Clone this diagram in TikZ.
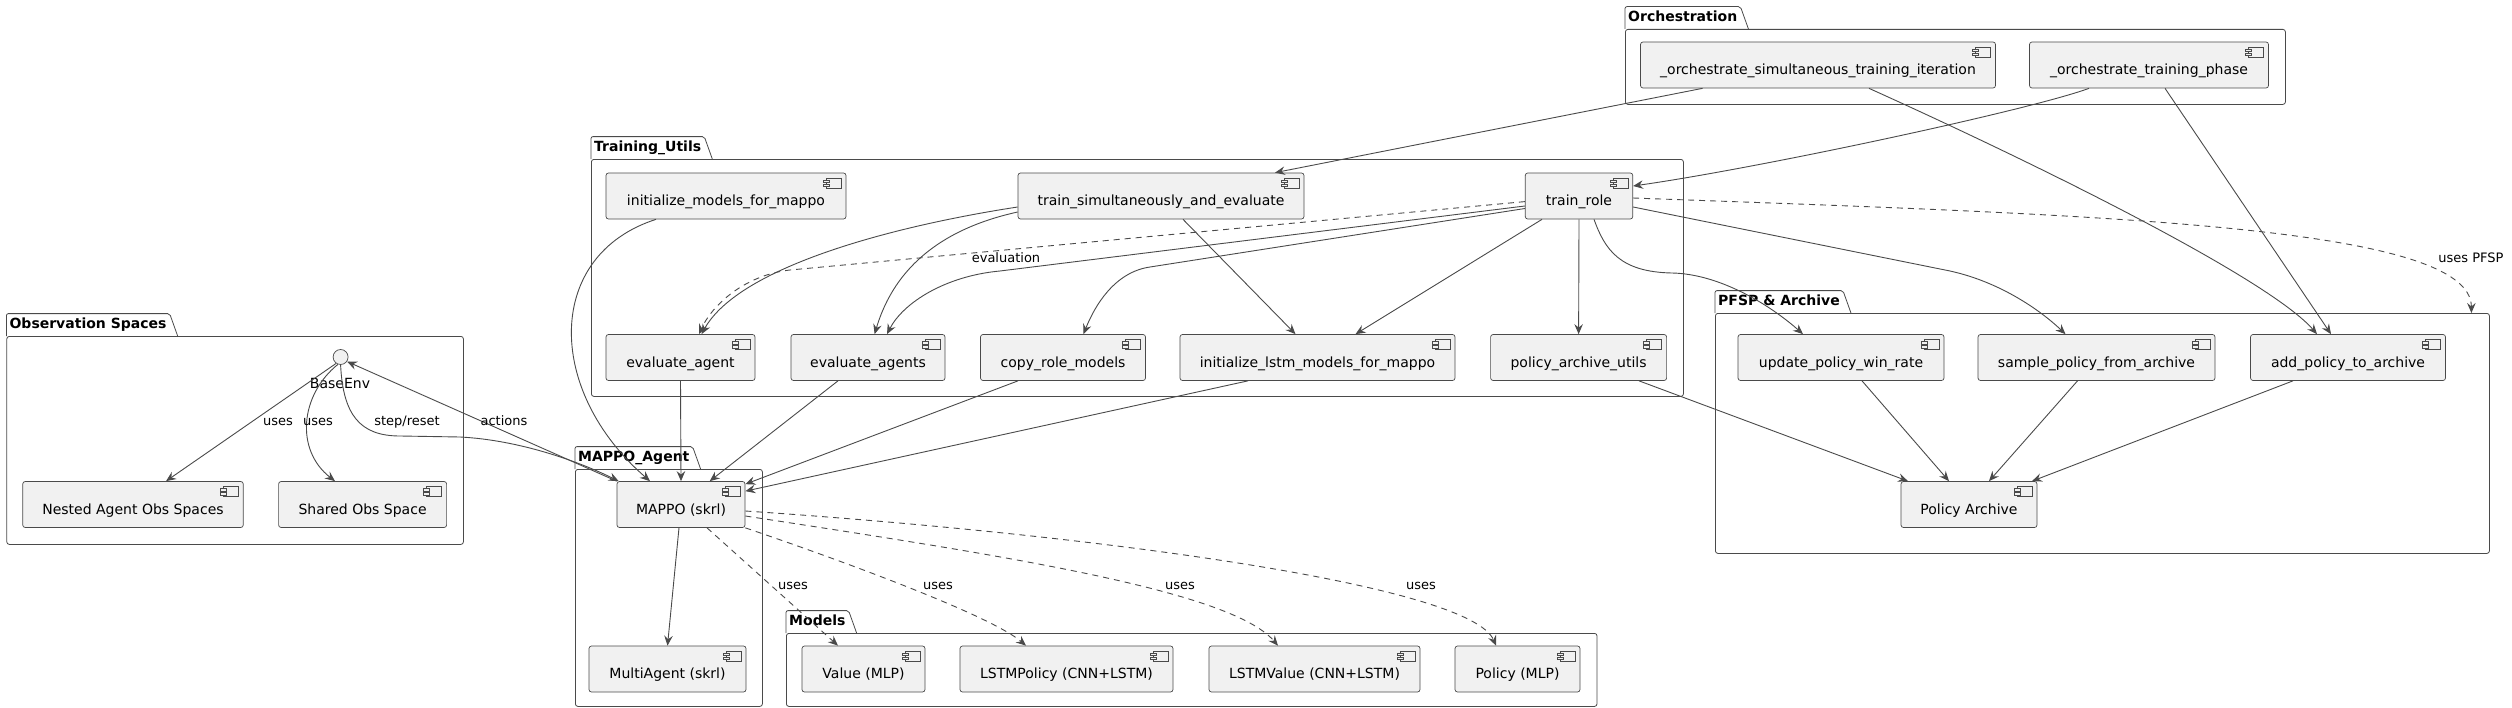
\documentclass[tikz,border=0pt]{standalone}
\usepackage{fontspec}
\setmainfont{DejaVu Sans}
\usetikzlibrary{arrows.meta}
\definecolor{linec}{HTML}{4A4A4A}
\definecolor{compfill}{HTML}{F1F1F1}

\begin{document}
\begin{tikzpicture}[x=1bp,y=-1bp,
    comp/.style={draw=linec,line width=0.7bp,fill=compfill,rounded corners=2.5bp,
        minimum height=46bp,inner sep=0pt,text height=22bp,text depth=3bp,
        font=\fontsize{14bp}{16bp}\selectfont,
        path picture={
            \draw[sharp corners,linec,line width=0.5bp,fill=compfill]
                ([shift={(-20bp,-5bp)}]path picture bounding box.north east) rectangle ++(15bp,-10bp);
            \draw[sharp corners,linec,line width=0.5bp,fill=compfill]
                ([shift={(-23bp,-7bp)}]path picture bounding box.north east) rectangle ++(6bp,-2.5bp);
            \draw[sharp corners,linec,line width=0.5bp,fill=compfill]
                ([shift={(-23bp,-11bp)}]path picture bounding box.north east) rectangle ++(6bp,-2.5bp);
        }},
    pkgbox/.style={draw=linec,line width=0.8bp,rounded corners=2.5bp,inner sep=0pt,anchor=north west},
    pkgtitle/.style={font=\bfseries\fontsize{14bp}{16bp}\selectfont,inner xsep=3bp,inner ysep=0pt,
        minimum height=22bp,text height=10.5bp,text depth=3bp,anchor=south west},
    pkgline/.style={draw=linec,line width=0.8bp,rounded corners=2bp},
    arr/.style={draw=linec,line width=0.9bp,-{Stealth[length=10bp,width=8.5bp,inset=3.5bp]}},
    dasharr/.style={arr,dash pattern=on 6bp off 5bp},
    elbl/.style={font=\fontsize{13bp}{15bp}\selectfont,inner sep=1bp,text height=9.5bp,text depth=2.5bp}]

    \useasboundingbox (0,0) rectangle (2512,708);

    % packages
    \node (obs) at (6.4,336) [pkgbox,minimum width=456.6bp,minimum height=208bp] {};
    \node (obstitle) at (obs.north west) [pkgtitle] {Observation Spaces};
    \draw[pkgline] (obstitle.south west) -- (obstitle.north west) -- (obstitle.north east) -- ([xshift=8bp]obstitle.south east);

    \node (train) at (591,159) [pkgbox,minimum width=1092bp,minimum height=237bp] {};
    \node (traintitle) at (train.north west) [pkgtitle] {Training\_Utils};
    \draw[pkgline] (traintitle.south west) -- (traintitle.north west) -- (traintitle.north east) -- ([xshift=8bp]traintitle.south east);

    \node (agent) at (575,469) [pkgbox,minimum width=187bp,minimum height=237bp] {};
    \node (agenttitle) at (agent.north west) [pkgtitle] {MAPPO\_Agent};
    \draw[pkgline] (agenttitle.south west) -- (agenttitle.north west) -- (agenttitle.north east) -- ([xshift=8bp]agenttitle.south east);

    \node (models) at (786,633) [pkgbox,minimum width=810.6bp,minimum height=73bp] {};
    \node (modelstitle) at (models.north west) [pkgtitle] {Models};
    \draw[pkgline] (modelstitle.south west) -- (modelstitle.north west) -- (modelstitle.north east) -- ([xshift=8bp]modelstitle.south east);

    \node (orch) at (1625,29) [pkgbox,minimum width=660bp,minimum height=75bp] {};
    \node (orchtitle) at (orch.north west) [pkgtitle] {Orchestration};
    \draw[pkgline] (orchtitle.south west) -- (orchtitle.north west) -- (orchtitle.north east) -- ([xshift=8bp]orchtitle.south east);

    \node (pfsp) at (1715,313) [pkgbox,minimum width=774bp,minimum height=240bp] {};
    \node (pfsptitle) at (pfsp.north west) [pkgtitle] {PFSP \& Archive};
    \draw[pkgline] (pfsptitle.south west) -- (pfsptitle.north west) -- (pfsptitle.north east) -- ([xshift=8bp]pfsptitle.south east);

    % components
    \node (orchsim) at (1818,65) [comp,minimum width=355bp] {\_orchestrate\_simultaneous\_training\_iteration};
    \node (orchphase) at (2149,65) [comp,minimum width=239bp] {\_orchestrate\_training\_phase};

    \node (initmodels) at (726,196) [comp,minimum width=240bp] {initialize\_models\_for\_mappo};
    \node (trainsim) at (1161,196) [comp,minimum width=286bp] {train\_simultaneously\_and\_evaluate};
    \node (trainrole) at (1579,196) [comp,minimum width=107.5bp] {train\_role};
    \node (evalagent) at (680.5,357.5) [comp,minimum width=149bp] {evaluate\_agent};
    \node (evalagents) at (868,357.5) [comp,minimum width=154bp] {evaluate\_agents};
    \node (copyrole) at (1063,357.5) [comp,minimum width=165bp] {copy\_role\_models};
    \node (initlstm) at (1317.5,357.5) [comp,minimum width=275bp] {initialize\_lstm\_models\_for\_mappo};
    \node (archutils) at (1578.6,357.5) [comp,minimum width=176bp] {policy\_archive\_utils};

    \node (updwin) at (1841,357.5) [comp,minimum width=206bp] {update\_policy\_win\_rate};
    \node (sample) at (2096.5,357.5) [comp,minimum width=237bp] {sample\_policy\_from\_archive};
    \node (addpol) at (2348,357.5) [comp,minimum width=195bp] {add\_policy\_to\_archive};
    \node (archive) at (1969,504.5) [comp,minimum width=136bp] {Policy Archive};

    \node (baseenv) at (340.6,357) [circle,draw=linec,line width=0.7bp,fill=compfill,minimum size=15bp,inner sep=0pt] {};
    \node (baseenvlbl) at (340,383) [font=\fontsize{14bp}{16bp}\selectfont,inner sep=0pt] {BaseEnv};
    \node (nested) at (133,504.5) [comp,minimum width=220.5bp] {Nested Agent Obs Spaces};
    \node (shared) at (362.6,504.5) [comp,minimum width=168bp] {Shared Obs Space};

    \node (mappo) at (681,504.5) [comp,minimum width=128bp] {MAPPO (skrl)};
    \node (multi) at (667.5,669) [comp,minimum width=157bp] {MultiAgent (skrl)};
    \node (value) at (863.5,669) [comp,minimum width=123bp] {Value (MLP)};
    \node (lstmpol) at (1066.5,669) [comp,minimum width=213bp] {LSTMPolicy (CNN+LSTM)};
    \node (lstmval) at (1314.5,669) [comp,minimum width=211bp] {LSTMValue (CNN+LSTM)};
    \node (polmlp) at (1517.5,669) [comp,minimum width=125bp] {Policy (MLP)};

    % orchestration calls
    \draw[arr] ([xshift=-115.5bp]orchsim.south) -- ([xshift=114bp]trainsim.north);
    \draw[arr] ([xshift=51bp]orchsim.south) .. controls (2050,170) and (2270,280) .. ([xshift=-31bp]addpol.north);
    \draw[arr] ([xshift=-60bp]orchphase.south) .. controls (2030,110) and (1760,168) .. ([yshift=10bp]trainrole.east);
    \draw[arr] ([xshift=16bp]orchphase.south) -- ([xshift=-17bp]addpol.north);

    % training utils
    \draw[dasharr] ([yshift=-5.6bp]trainrole.west) -- (790,270) .. controls (745,275) and (712,305) .. ([xshift=18.5bp]evalagent.north);
    \draw[arr] ([yshift=-11bp]trainsim.west) .. controls (900,225) and (740,265) .. ([xshift=21bp]evalagent.north);
    \draw[arr] ([yshift=-16bp]trainsim.west) .. controls (945,228) and (895,265) .. ([xshift=6.6bp]evalagents.north);
    \draw[arr] ([yshift=-10bp]trainrole.west) -- (1000,271) .. controls (945,276) and (903,303) .. ([xshift=19bp]evalagents.north);
    \draw[arr] ([yshift=-12.5bp]trainrole.west) -- (1150,267) .. controls (1115,272) and (1095,305) .. ([xshift=20.5bp]copyrole.north);
    \draw[arr] ([xshift=22bp]trainsim.south) -- ([xshift=-22bp]initlstm.north);
    \draw[arr] ([xshift=-37bp]trainrole.south) -- ([xshift=38bp]initlstm.north);
    \draw[arr] (trainrole.south) -- (archutils.north);
    \draw[arr] ([xshift=15bp]trainrole.south) .. controls (1605,250) and (1620,272) .. (1672,273)
        .. controls (1720,274) and (1770,305) .. ([xshift=-38bp]updwin.north);
    \draw[arr] ([yshift=-11bp]trainrole.east) -- (1950,271) .. controls (2000,282) and (2040,310) .. ([xshift=-31bp]sample.north);
    \draw[dasharr] ([yshift=-2bp]trainrole.east) .. controls (2100,215) and (2471,225) .. ([xshift=369bp]pfsp.north);

    % into the agent
    \draw[arr] ([xshift=-70bp]initmodels.south) .. controls (545,255) and (545,390) .. ([xshift=-31bp]mappo.north);
    \draw[arr] (evalagent.south) -- (mappo.north);
    \draw[arr] ([xshift=-30bp]evalagents.south) -- ([xshift=28.7bp]mappo.north);
    \draw[arr] ([xshift=-45bp]copyrole.south) -- ([yshift=-3bp]mappo.north east);
    \draw[arr] ([xshift=-69.5bp]initlstm.south) -- ([yshift=-10bp]mappo.north east);

    % archive
    \draw[arr] ([xshift=60.4bp]archutils.south) -- ([xshift=-61bp]archive.north);
    \draw[arr] ([xshift=21bp]updwin.south) -- ([xshift=-20bp]archive.north);
    \draw[arr] ([xshift=-19bp]sample.south) -- ([xshift=20bp]archive.north);
    \draw[arr] ([xshift=-55bp]addpol.south) -- ([xshift=63bp]archive.north);

    % agent and models
    \draw[arr] ([xshift=-2bp]mappo.south) -- (multi.north);
    \draw[dasharr] ([xshift=26bp]mappo.south) -- ([xshift=-25.5bp]value.north);
    \draw[dasharr] (mappo.south east) .. controls (840,560) and (990,615) .. ([xshift=-40.5bp]lstmpol.north);
    \draw[dasharr] ([yshift=-11.5bp]mappo.east) .. controls (1000,555) and (1230,590) .. ([xshift=-36.5bp]lstmval.north);
    \draw[dasharr] ([yshift=-6.5bp]mappo.east) .. controls (1100,535) and (1470,585) .. ([xshift=-21.5bp]polmlp.north);

    % environment
    \draw[arr] (baseenv.235) -- ([xshift=33bp]nested.north);
    \draw[arr] (baseenv.250) .. controls (300,395) and (295,450) .. ([xshift=-27.6bp]shared.north);
    \draw[arr] (baseenv.south) .. controls (343,415) and (360,436) .. (400,436) -- (460,437)
        .. controls (520,440) and (580,462) .. ([xshift=2bp]mappo.north west);
    \draw[arr] (mappo.north west) -- (baseenv.-35);

    % labels
    \node (usesnested) at (278,422) [elbl] {uses};
    \node (usesshared) at (318,422) [elbl] {uses};
    \node (stepreset) at (407,422) [elbl] {step/reset};
    \node (actions) at (504,422) [elbl] {actions};
    \node (evaluation) at (1006,258.6) [elbl] {evaluation};
    \node (usespfsp) at (2471,259) [elbl] {uses PFSP};
    \node (usesvalue) at (793,586) [elbl] {uses};
    \node (useslstmpol) at (938,586) [elbl] {uses};
    \node (useslstmval) at (1180,586) [elbl] {uses};
    \node (usespolicy) at (1421,586) [elbl] {uses};

\end{tikzpicture}
\end{document}
